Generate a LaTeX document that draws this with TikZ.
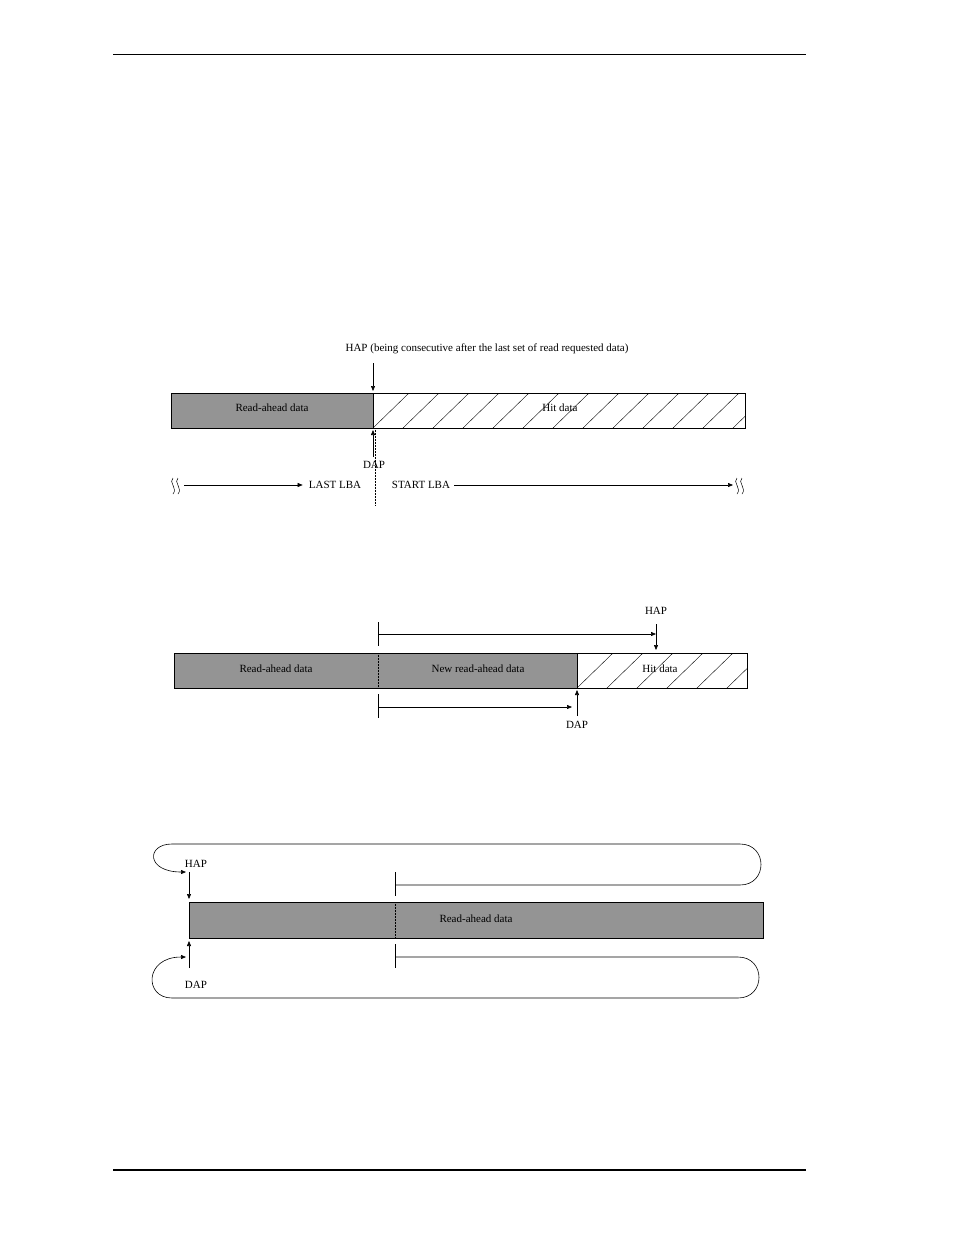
\documentclass[tikz,border=0pt]{standalone}
\usepackage{fontspec}
\setmainfont{Liberation Serif}
\usetikzlibrary{arrows.meta}
\tikzset{
  gray bar/.style={draw=black, fill=black!42, line width=0.8pt},
  hit bar/.style={draw=black, fill=white, line width=0.8pt},
  arrow/.style={-{Triangle[length=5pt,width=4pt]}, line width=0.6pt},
  plain/.style={line width=0.6pt},
  divider/.style={densely dotted, line width=0.5pt},
  lbl/.style={font=\fontsize{11}{13}\selectfont, inner sep=0pt}
}
% hatching inside a box
\newcommand{\hatchbox}[4]{%
  \begin{scope}
    \clip (#1,#2) rectangle (#3,#4);
    \pgfmathsetmacro\hatchnext{#1+30}
    \foreach \hx in {#1,\hatchnext,...,#3} {\draw[line width=0.4pt] (\hx,#4) -- (\hx+36,#2);}
  \end{scope}}
\newcommand{\wave}[2]{%
  \draw[line width=0.5pt] (#1-4,#2-8) .. controls (#1-9,#2-4) and (#1+1,#2+2) .. (#1-4,#2+8);
  \draw[line width=0.5pt] (#1+1,#2-8) .. controls (#1-4,#2-4) and (#1+6,#2+2) .. (#1+1,#2+8);}
\begin{document}
\begin{tikzpicture}[x=1pt, y=-1pt]
\useasboundingbox (0,0) rectangle (954,1235);
% page rules
\draw[line width=0.6pt] (113,54) -- (806,54);
\draw[line width=1.2pt] (113,1170) -- (806,1170);

% ---- first case
\hatchbox{373}{393}{745}{428}
\draw[hit bar, fill=none] (373,393) rectangle (745,428);
\draw[gray bar] (171,393) rectangle (373,428);
\node[lbl] (ra1) at (272,408) {Read-ahead data};
\node[lbl] (hit1) at (560,408) {Hit data};
\node[lbl] (hap1) at (487,349) {HAP (being consecutive after the last set of read requested data)};
\coordinate (hapt1) at (373,363);
\coordinate (hapb1) at (373,391);
\draw[arrow] (hapt1) -- (hapb1);
\node[lbl] (dap1) at (374,465) {DAP};
\coordinate (dapt1) at (373,430);
\coordinate (dapf1) at (373,457);
\draw[arrow] (dapf1) -- (dapt1);
\draw[divider] (375,428) -- (375,505);
\node[lbl] (last) at (335,485) {LAST LBA};
\node[lbl] (start) at (421,485) {START LBA};
\wave{177}{486}
\wave{741}{486}
\coordinate (wl) at (184,485);
\coordinate (wr) at (733,485);
\draw[arrow] (wl) -- ([xshift=-6pt]last.west);
\draw[arrow] ([xshift=4pt]start.east) -- (wr);

% ---- second case
\hatchbox{577}{653}{747}{688}
\draw[hit bar, fill=none] (174,653) rectangle (747,688);
\draw[gray bar] (174,653) rectangle (577,688);
\draw[divider] (378,653) -- (378,688);
\node[lbl] (ra2) at (276,669) {Read-ahead data};
\node[lbl] (new2) at (478,669) {New read-ahead data};
\node[lbl] (hit2) at (660,669) {Hit data};
\draw[plain] (378,622) -- (378,646);
\draw[arrow] (378,634) -- (656,634);
\node[lbl] (hap2) at (656,611) {HAP};
\draw[arrow] (656,624) -- (656,650);
\draw[plain] (378,694) -- (378,718);
\draw[arrow] (378,707) -- (572,707);
\node[lbl] (dap2) at (577,725) {DAP};
\draw[arrow] (577,716) -- (577,690);

% ---- third case
\draw[gray bar] (189,902) rectangle (763,938);
\draw[divider] (395,902) -- (395,938);
\node[lbl] (ra3) at (476,919) {Read-ahead data};
\node[lbl] (hap3) at (196,864) {HAP};
\node[lbl] (dap3) at (196,985) {DAP};
\draw[plain] (395,872) -- (395,896);
\draw[plain] (395,944) -- (395,968);
\draw[arrow] (395,885) -- (740,885) .. controls (768,885) and (768,844) .. (740,844)
  -- (172,844) .. controls (146,844) and (146,872) .. (186,872);
\draw[arrow] (395,957) -- (738,957) .. controls (766,957) and (766,998) .. (738,998)
  -- (172,998) .. controls (144,998) and (144,957) .. (186,957);
\draw[arrow] (189,872) -- (189,899);
\draw[arrow] (189,968) -- (189,941);
\end{tikzpicture}
\end{document}
